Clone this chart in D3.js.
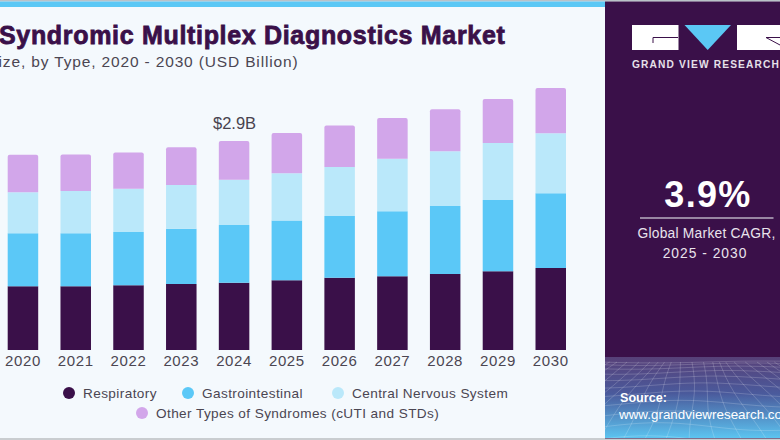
<!DOCTYPE html>
<html>
<head>
<meta charset="utf-8">
<script src="https://cdn.jsdelivr.net/npm/d3@7"></script>
<style>
  html, body { margin: 0; padding: 0; background: #f4f9fd; }
  svg { display: block; font-family: "Liberation Sans", sans-serif; }
</style>
</head>
<body>
<svg id="chart" width="780" height="440"></svg>
<script>
const years = ["2020", "2021", "2022", "2023", "2024", "2025", "2026", "2027", "2028", "2029", "2030"]
const respiratory = [0.884, 0.884, 0.898, 0.916, 0.934, 0.967, 1.003, 1.023, 1.055, 1.092, 1.138]
const gastrointestinal = [0.735, 0.735, 0.74, 0.767, 0.8, 0.83, 0.856, 0.902, 0.944, 0.989, 1.036]
const centralNervous = [0.569, 0.587, 0.6, 0.606, 0.629, 0.655, 0.68, 0.73, 0.759, 0.791, 0.833]
const otherTypes = [0.522, 0.506, 0.502, 0.523, 0.537, 0.559, 0.576, 0.565, 0.583, 0.61, 0.629]
const seriesNames = ["Respiratory", "Gastrointestinal", "Central Nervous System", "Other Types of Syndromes (cUTI and STDs)"]
const seriesColors = ["#3a1049", "#5bc8f7", "#bae8fa", "#d2a6ea"]

const svg = d3.select("#chart")
const defs = svg.append("defs")

// page background and top strip
svg.append("rect").attr("width", 780).attr("height", 440).attr("fill", "#f4f9fd")
svg.append("rect").attr("width", 780).attr("height", 1.5).attr("fill", "#b9c2c8")
svg.append("rect").attr("y", 1.5).attr("width", 605).attr("height", 5.5).attr("fill", "#5bc8f5")
svg.append("rect").attr("y", 438).attr("width", 780).attr("height", 2).attr("fill", "#c9cdd0")

// stacked bars
const table = years.map((year, i) => ({
  year,
  s0: respiratory[i],
  s1: gastrointestinal[i],
  s2: centralNervous[i],
  s3: otherTypes[i]
}))
const stacked = d3.stack().keys(["s0", "s1", "s2", "s3"])(table)

const xScale = d3.scaleBand().domain(years).range([7.7, 566]).paddingInner(0.422).paddingOuter(0)
const yScale = d3.scaleLinear().domain([0, 2.9]).range([350, 141])

// bar segment, only the top one gets rounded corners
const segment = (x, y0, y1, w, r) =>
  `M${x},${y1}V${y0 + r}Q${x},${y0} ${x + r},${y0}H${x + w - r}Q${x + w},${y0} ${x + w},${y0 + r}V${y1}Z`

svg.append("g")
  .selectAll("g")
  .data(stacked)
  .join("g")
  .attr("fill", (d, i) => seriesColors[i])
  .selectAll("path")
  .data((d) => d.map((v) => ({ v, top: d.index === 3 })))
  .join("path")
  .attr("d", (d) =>
    segment(xScale(d.v.data.year), yScale(d.v[1]), yScale(d.v[0]), xScale.bandwidth(), d.top ? 2 : 0)
  )

// x axis, labels only
const xAxis = d3.axisBottom(xScale).tickSize(0).tickPadding(5.5)
const axisG = svg.append("g").attr("transform", "translate(0,350)").call(xAxis)
axisG.select(".domain").remove()
axisG.selectAll("text")
  .attr("font-family", "'Liberation Sans', sans-serif")
  .attr("font-size", 15)
  .attr("letter-spacing", 0.6)
  .attr("fill", "#4b4652")

// callout over 2024
svg.append("text")
  .attr("x", xScale("2024") + xScale.bandwidth() / 2 + 0.5)
  .attr("y", yScale(2.9) - 12.5)
  .attr("text-anchor", "middle")
  .attr("font-size", 16.5)
  .attr("fill", "#48434f")
  .text("$2.9B")

// titles
svg.append("text")
  .attr("x", 505.5)
  .attr("y", 44)
  .attr("text-anchor", "end")
  .attr("font-size", 25)
  .attr("font-weight", 700)
  .attr("fill", "#3a1049")
  .attr("stroke", "#3a1049")
  .attr("stroke-width", 0.8)
  .attr("letter-spacing", 0.68)
  .text("Syndromic Multiplex Diagnostics Market")
svg.append("text")
  .attr("x", 298.5)
  .attr("y", 67)
  .attr("text-anchor", "end")
  .attr("font-size", 15.5)
  .attr("letter-spacing", 0.85)
  .attr("fill", "#4b4652")
  .text("Size, by Type, 2020 - 2030 (USD Billion)")

// legend
const legendItems = [
  { cx: 69, cy: 393 },
  { cx: 188, cy: 393 },
  { cx: 338, cy: 393 },
  { cx: 142, cy: 413 }
]
const legend = svg.append("g")
  .selectAll("g")
  .data(seriesNames)
  .join("g")
  .attr("transform", (d, i) => `translate(${legendItems[i].cx},${legendItems[i].cy})`)
legend.append("circle").attr("r", 6).attr("fill", (d, i) => seriesColors[i])
legend.append("text")
  .attr("x", 14)
  .attr("y", 5)
  .attr("font-size", 13.6)
  .attr("letter-spacing", 0.4)
  .attr("fill", "#4b4652")
  .text((d) => d)

// right panel
const panelFill = defs.append("linearGradient")
  .attr("id", "panelFill")
  .attr("x1", 0).attr("x2", 0).attr("y1", 0).attr("y2", 1)
panelFill.append("stop").attr("offset", "0%").attr("stop-color", "#574078")
panelFill.append("stop").attr("offset", "45%").attr("stop-color", "#4a5a9c")
panelFill.append("stop").attr("offset", "100%").attr("stop-color", "#5cc4f0")

defs.append("clipPath").attr("id", "meshClip")
  .append("rect").attr("x", 605).attr("y", 357).attr("width", 175).attr("height", 81)

svg.append("rect").attr("x", 605).attr("y", 1.5).attr("width", 175).attr("height", 437).attr("fill", "#3a1049")
svg.append("rect").attr("x", 605).attr("y", 357).attr("width", 175).attr("height", 81).attr("fill", "url(#panelFill)")

// background mesh, purely decorative
const mesh = svg.append("g")
  .attr("clip-path", "url(#meshClip)")
  .attr("fill", "none")
  .attr("stroke", "#ffffff")
  .attr("stroke-opacity", 0.26)
  .attr("stroke-width", 0.7)
const meshLine = d3.line().curve(d3.curveBasis)
d3.range(0, 12).forEach((row) => {
  const base = 362 + row * row * 0.62 + row * 1.6
  mesh.append("path").attr("d", meshLine(
    d3.range(600, 790, 20).map((x) => [x, base + Math.sin((x - 600) / 34 + row / 3) * (1 + row * 0.35)])
  ))
})
d3.range(-10, 11).forEach((col) => {
  const top = 692 + col * 9
  const bottom = 692 + col * 24
  mesh.append("path").attr("d", meshLine(
    d3.range(0, 1.01, 0.2).map((t) => [top + (bottom - top) * t + Math.sin(t * 5 + col) * 3, 362 + t * 78])
  ))
})

// logo
const logo = svg.append("g")
logo.append("rect").attr("x", 632).attr("y", 25).attr("width", 46.5).attr("height", 25).attr("fill", "#ffffff")
logo.append("path").attr("d", "M684.5,25H731L707.7,50Z").attr("fill", "#5bc8f5")
logo.append("rect").attr("x", 737).attr("y", 25).attr("width", 43).attr("height", 25).attr("fill", "#ffffff")
logo.append("path").attr("d", "M653,43V37.5H678").attr("fill", "none").attr("stroke", "#3a1049").attr("stroke-width", 1)
logo.append("path").attr("d", "M766,37.5L780,37.5M766,37.5L780,45").attr("fill", "none").attr("stroke", "#3a1049").attr("stroke-width", 1)
svg.append("text")
  .attr("x", 632)
  .attr("y", 67.5)
  .attr("font-size", 10.2)
  .attr("font-weight", 700)
  .attr("letter-spacing", 1.15)
  .attr("fill", "#e6e0ea")
  .text("GRAND VIEW RESEARCH")

// CAGR block
svg.append("text")
  .attr("x", 708)
  .attr("y", 207)
  .attr("text-anchor", "middle")
  .attr("font-size", 36)
  .attr("font-weight", 700)
  .attr("letter-spacing", 1.3)
  .attr("fill", "#ffffff")
  .text("3.9%")
svg.append("line")
  .attr("x1", 640).attr("x2", 773.5)
  .attr("y1", 218).attr("y2", 218)
  .attr("stroke", "#b9aec2")
  .attr("stroke-width", 1.4)
svg.append("text")
  .attr("x", 706.5)
  .attr("y", 238)
  .attr("text-anchor", "middle")
  .attr("font-size", 13.8)
  .attr("letter-spacing", 0.25)
  .attr("fill", "#e9e3ec")
  .text("Global Market CAGR,")
svg.append("text")
  .attr("x", 705)
  .attr("y", 257.5)
  .attr("text-anchor", "middle")
  .attr("font-size", 13.8)
  .attr("letter-spacing", 1)
  .attr("fill", "#e9e3ec")
  .text("2025 - 2030")

// source
svg.append("text")
  .attr("x", 620)
  .attr("y", 402)
  .attr("font-size", 12.6)
  .attr("font-weight", 700)
  .attr("fill", "#ffffff")
  .text("Source:")
svg.append("text")
  .attr("x", 619)
  .attr("y", 419)
  .attr("font-size", 13.4)
  .attr("fill", "#ffffff")
  .text("www.grandviewresearch.com")
</script>
</body>
</html>
